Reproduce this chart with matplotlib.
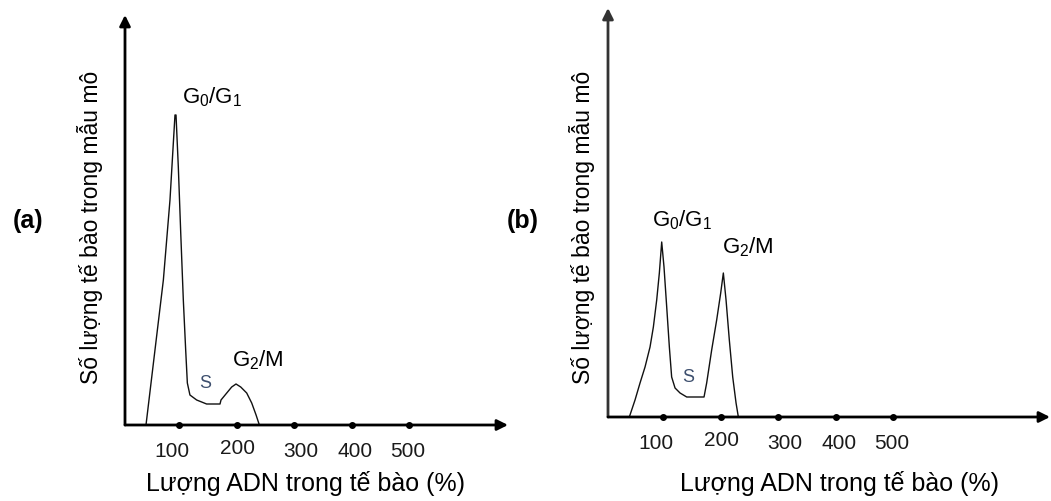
import numpy as np
import matplotlib.pyplot as plt

plt.rcParams['font.family'] = ['Liberation Sans', 'DejaVu Sans']
plt.rcParams['mathtext.default'] = 'regular'

# -------------------------------
# Data (arbitrary count units)
tick_values = [100, 200, 300, 400, 500]
tick_labels = ['100', '200', '300', '400', '500']
# small hand-placed shifts of the tick labels (pixels)
label_dx = [-7, 1, 7, 4, -1]
label_dy = [0, 3, 0, 0, 0]

# (a) – large G0/G1 peak, small G2/M hump
dna_a = [42.6, 72.8, 84.3, 93.0, 94.8, 98.8, 103.0, 107.5, 111.6, 114.5,
         119.0, 130.7, 148.0, 171.3, 173.0, 183.0, 191.6, 199.1, 207.3,
         217.7, 226.4, 234.0, 239.7]
count_a = [0, 145, 225, 310, 310, 258, 192, 125, 75, 42,
           30, 25, 21, 21, 25, 32, 38, 41, 38,
           32, 22, 10, 0]

# (b) – G0/G1 and G2/M peaks of similar height
dna_b = [41.4, 51.3, 60.0, 68.7, 77.4, 83.2, 89.0, 93.6, 97.7, 101.7,
         106.4, 111.0, 115.0, 120.9, 129.6, 141.2, 171.3, 175.9, 184.6,
         193.3, 200.3, 204.9, 209.6, 215.3, 221.2, 227.0, 231.0]
count_b = [0, 17, 34, 50, 70, 90, 117, 144, 175, 150,
           110, 70, 40, 29, 24, 20, 20, 34, 67,
           97, 124, 144, 117, 77, 40, 14, 0]

ylabel = "Số lượng tế bào trong mẫu mô"
xlabel = "Lượng ADN trong tế bào (%)"

W, H = 1051, 501
fig = plt.figure(figsize=(W / 100, H / 100), dpi=100)


def px(x, y):
    return x / W, 1 - y / H


def panel(rect, xlim, ylim, dna, count, letter, letter_xy, ylab_x,
          xlab_x, g01_xy, g2m_xy, s_xy, axis_color):
    ax = fig.add_axes(rect)
    ax.set_xlim(*xlim)
    ax.set_ylim(*ylim)
    ax.axis('off')

    # axes drawn as arrows
    ax.annotate('', xy=(0, 1), xytext=(0, 0), xycoords='axes fraction',
                arrowprops=dict(arrowstyle='-|>', lw=2, color=axis_color,
                                mutation_scale=16, shrinkA=0, shrinkB=0))
    ax.annotate('', xy=(1, 0), xytext=(0, 0), xycoords='axes fraction',
                arrowprops=dict(arrowstyle='-|>', lw=2, color='black',
                                mutation_scale=16, shrinkA=0, shrinkB=0))

    ax.plot(dna, count, color='#111111', lw=1.0, clip_on=False)
    ax.plot(tick_values, [0] * len(tick_values), 'o', color='black',
            ms=4, clip_on=False)

    for v, lab, dx, dy in zip(tick_values, tick_labels, label_dx, label_dy):
        ax.annotate(lab, xy=(v, 0), xytext=(dx * 0.72, -19 + dy * 0.72),
                    textcoords='offset points', ha='center', va='center',
                    fontsize=15, color='#1a1a1a')

    ax.text(*g01_xy, r'$G_0/G_1$', fontsize=16, ha='left', va='center')
    ax.text(*g2m_xy, r'$G_2/M$', fontsize=16, ha='left', va='center')
    ax.text(*s_xy, 'S', fontsize=13, ha='center', va='center', color='#3d4f6e')

    fig.text(*px(*letter_xy), letter, fontsize=18, fontweight='bold',
             ha='center', va='center')
    fig.text(*px(ylab_x, 227), ylabel, fontsize=16.5, rotation=90,
             ha='center', va='center')
    fig.text(*px(xlab_x, 483), xlabel, fontsize=18, ha='center', va='center')
    return ax


# panel (a)
panel([125 / W, 76 / H, 383 / W, 410 / H], (6.1, 672), (0, 410),
      dna_a, count_a, '(a)', (28, 221), 90, 305,
      (105, 328), (193, 65), (145, 42), 'black')

# panel (b)
panel([608 / W, 84 / H, 442 / W, 409 / H], (4.3, 773), (0, 409),
      dna_b, count_b, '(b)', (523, 221), 582, 839,
      (80, 197), (202, 170), (144, 40), '#333333')

plt.savefig("out.png", dpi=100)
